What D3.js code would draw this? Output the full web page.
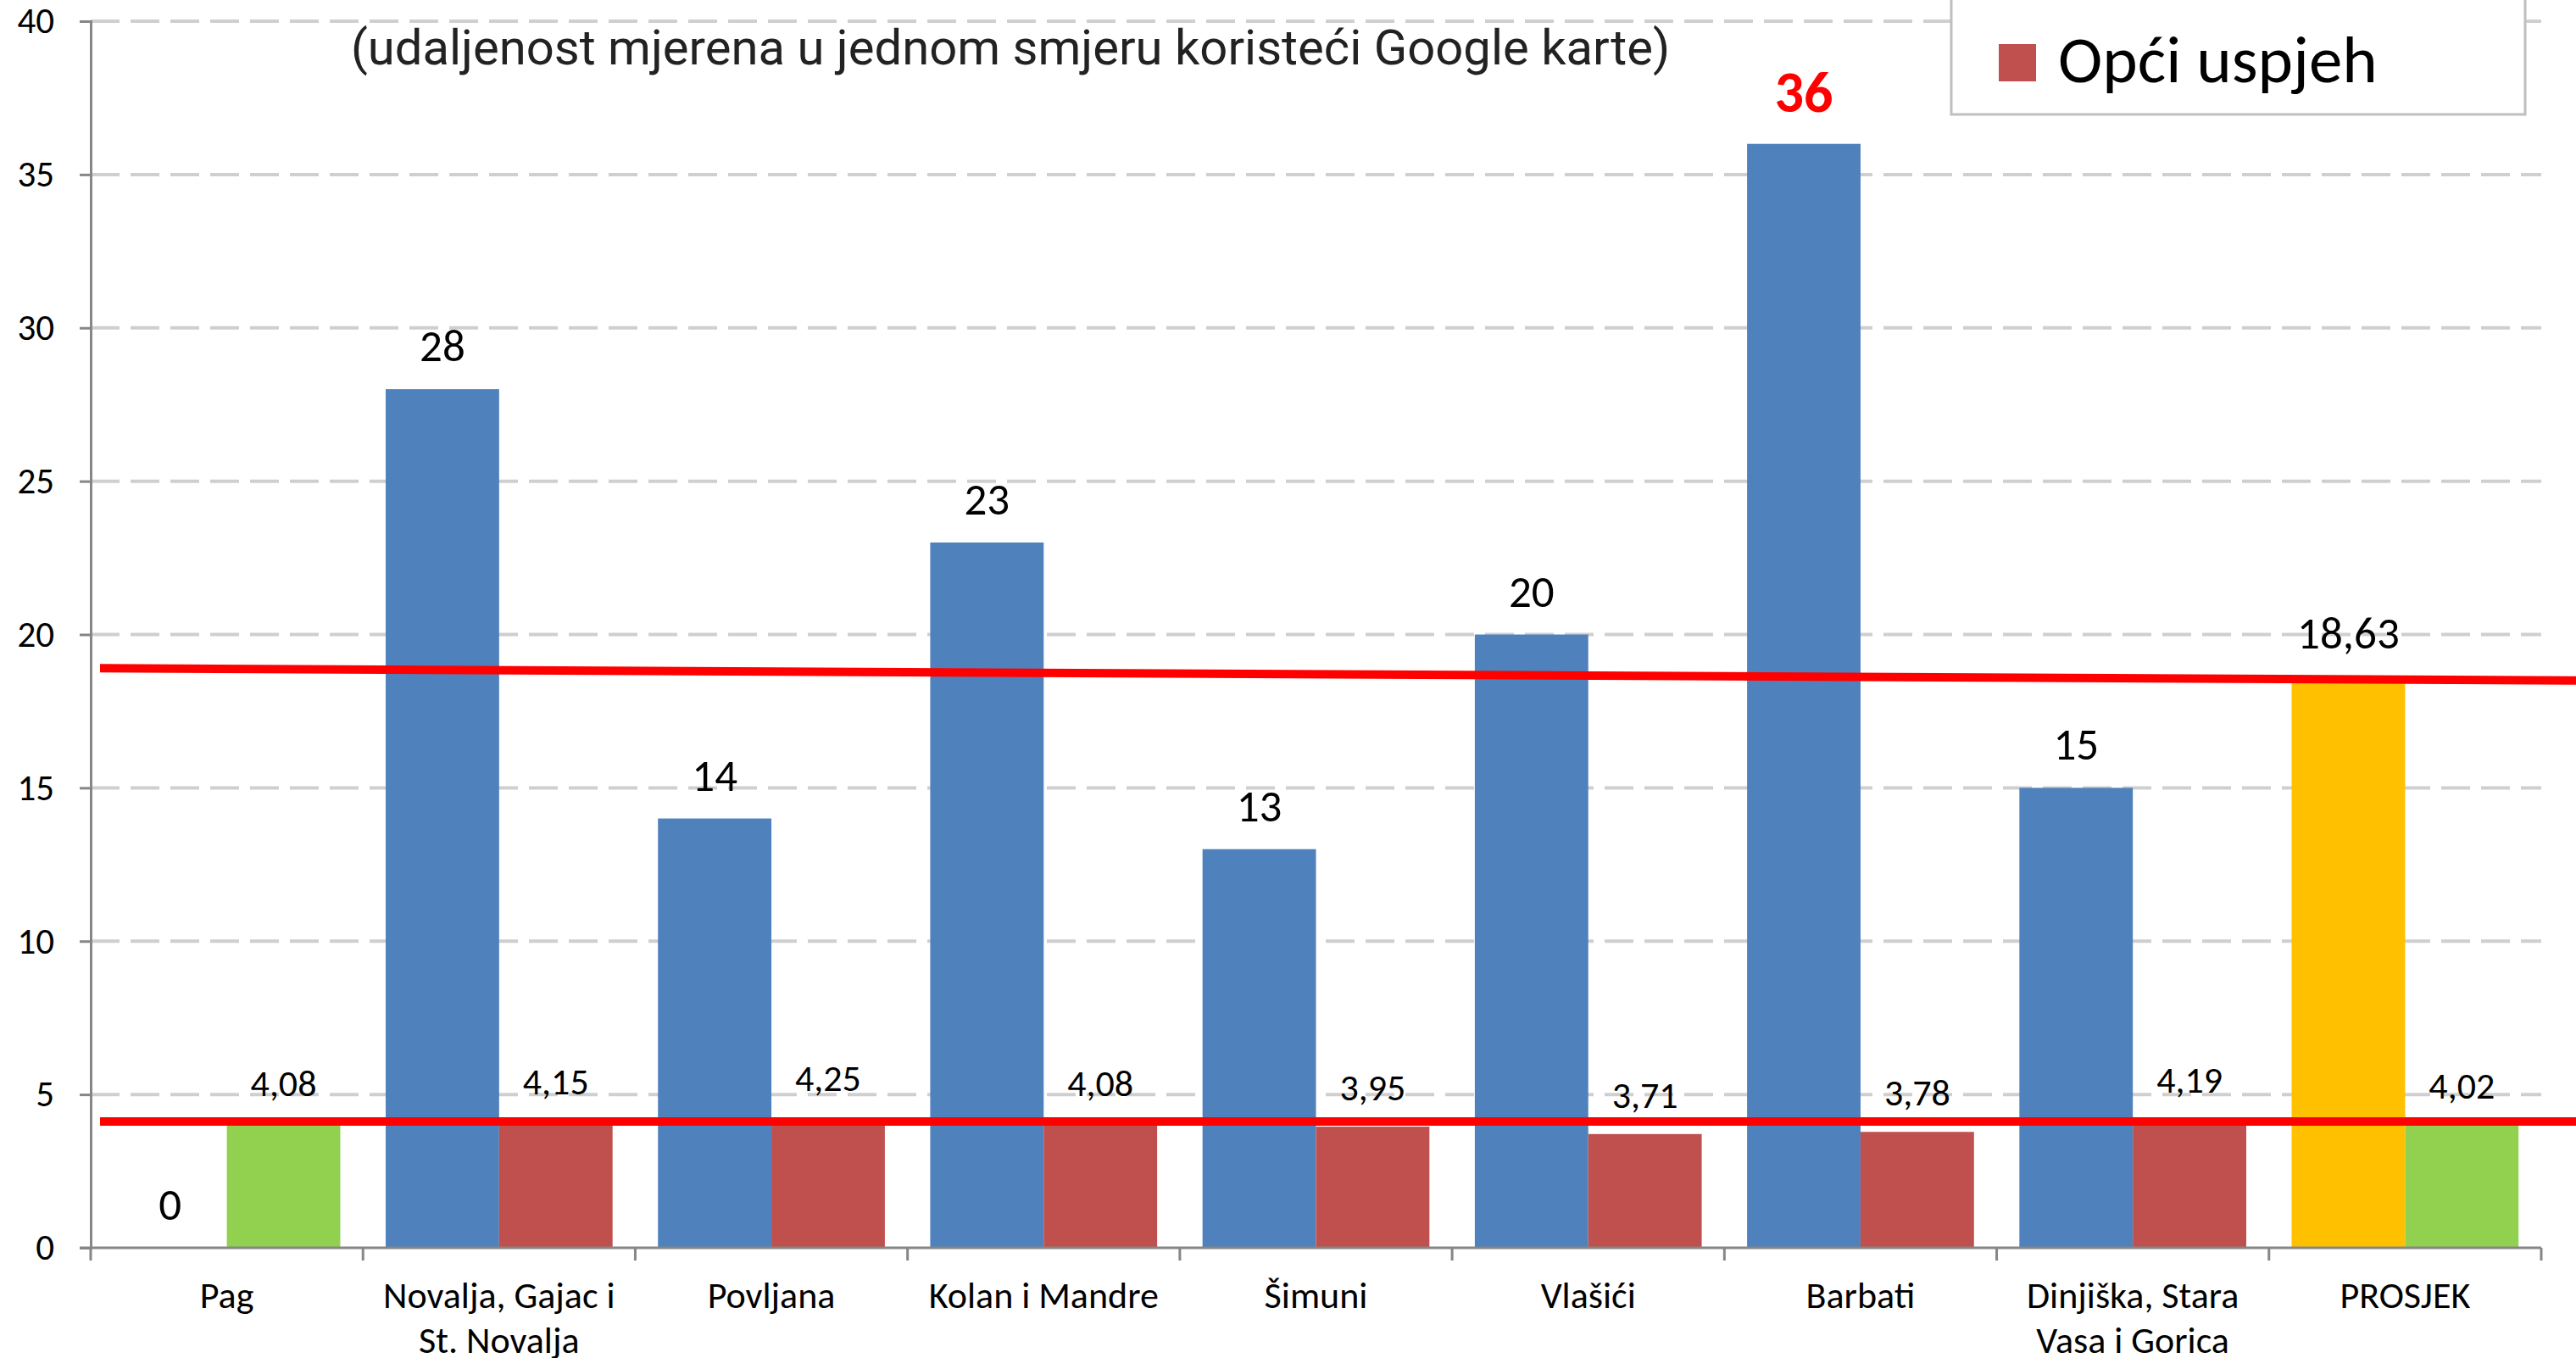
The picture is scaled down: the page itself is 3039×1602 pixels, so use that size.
<!DOCTYPE html>
<html>
<head>
<meta charset="utf-8">
<script src="https://cdn.jsdelivr.net/npm/d3@7"></script>
<style>
    body { margin: 0; background: #fff; }
    svg { display: block; }
    text { font-family: Carlito, Lato, sans-serif; fill: #000; }
    .title { font-family: Roboto, sans-serif; }
</style>
</head>
<body>
<script>
// data
var categories = ["Pag", "Novalja, Gajac i\nSt. Novalja", "Povljana", "Kolan i Mandre", "Šimuni",
    "Vlašići", "Barbati", "Dinjiška, Stara\nVasa i Gorica", "PROSJEK"];
var distance = [0, 28, 14, 23, 13, 20, 36, 15, 18.63];
var success = [4.08, 4.15, 4.25, 4.08, 3.95, 3.71, 3.78, 4.19, 4.02];
var yTicks = [0, 5, 10, 15, 20, 25, 30, 35, 40];
// hand drawn red lines (value at left end, value at right end)
var lineStart = [18.9, 4.12];
var lineEnd = [18.5, 4.12];
var legendLabel = "Opći uspjeh";
var subtitle = "(udaljenost mjerena u jednom smjeru koristeći Google karte)";

var W = 3039, H = 1602;
var plotLeft = 107, plotRight = 2998, plotTop = 25, plotBottom = 1472;

var svg = d3.select("body").append("svg")
    .attr("width", W)
    .attr("height", H);

var x = d3.scaleBand()
    .domain(d3.range(categories.length))
    .range([plotLeft, plotRight])
    .padding(0);

var xSub = d3.scaleBand()
    .domain([0, 1])
    .range([0, x.bandwidth()])
    .paddingInner(0)
    .paddingOuter(0.2);

var y = d3.scaleLinear()
    .domain([0, 40])
    .range([plotBottom, plotTop]);

var fmt = d3.formatLocale({decimal: ",", thousands: ".", grouping: [3], currency: ["", ""]});
function label(v) {
    return Number.isInteger(v) ? String(v) : fmt.format(".2f")(v);
}

var last = categories.length - 1;
var maxIdx = d3.maxIndex(distance.slice(0, last));

function blueColor(i) { return i === last ? "#FFC000" : "#4F81BD"; }
function redColor(i) { return (i === 0 || i === last) ? "#92D050" : "#C0504D"; }

// grid
svg.append("g")
    .selectAll("line")
    .data(yTicks.filter(function (d) { return d > 0; }))
    .join("line")
    .attr("x1", plotLeft)
    .attr("x2", plotRight)
    .attr("y1", function (d) { return y(d); })
    .attr("y2", function (d) { return y(d); })
    .attr("stroke", "#cfcfcf")
    .attr("stroke-width", 4)
    .attr("stroke-dasharray", "34,13");

// subtitle
svg.append("text")
    .attr("class", "title")
    .attr("x", 1192)
    .attr("y", 76)
    .attr("text-anchor", "middle")
    .attr("font-size", 58)
    .style("fill", "#222")
    .text(subtitle);

// bars
svg.append("g")
    .selectAll("rect")
    .data(distance)
    .join("rect")
    .attr("x", function (d, i) { return x(i) + xSub(0); })
    .attr("y", function (d) { return y(d); })
    .attr("width", xSub.bandwidth())
    .attr("height", function (d) { return y(0) - y(d); })
    .attr("fill", function (d, i) { return blueColor(i); });

svg.append("g")
    .selectAll("rect")
    .data(success)
    .join("rect")
    .attr("x", function (d, i) { return x(i) + xSub(1); })
    .attr("y", function (d) { return y(d); })
    .attr("width", xSub.bandwidth())
    .attr("height", function (d) { return y(0) - y(d); })
    .attr("fill", function (d, i) { return redColor(i); });

// axes
var yAxis = d3.axisLeft(y).tickValues(yTicks).tickSize(13).tickPadding(30);
var gy = svg.append("g")
    .attr("transform", "translate(" + plotLeft + ",0)")
    .call(yAxis);
gy.selectAll("text").attr("font-size", 43).attr("font-family", null);
gy.select(".domain").attr("stroke", "#868686").attr("stroke-width", 3);
gy.selectAll(".tick line").attr("stroke", "#868686").attr("stroke-width", 3);

var gx = svg.append("g")
    .attr("transform", "translate(0," + plotBottom + ")");
gx.append("line")
    .attr("x1", plotLeft - 13)
    .attr("x2", plotRight)
    .attr("y1", 0)
    .attr("y2", 0);
gx.selectAll(".tk")
    .data(d3.range(categories.length + 1))
    .join("line")
    .attr("class", "tk")
    .attr("x1", function (d) { return d < categories.length ? x(d) : plotRight; })
    .attr("x2", function (d) { return d < categories.length ? x(d) : plotRight; })
    .attr("y1", 0)
    .attr("y2", 15);
gx.selectAll("line").attr("stroke", "#868686").attr("stroke-width", 3);

var catText = gx.selectAll(".cat")
    .data(categories)
    .join("text")
    .attr("class", "cat")
    .attr("text-anchor", "middle")
    .attr("font-size", 44)
    .attr("y", 71);
catText.each(function (d, i) {
    var t = d3.select(this);
    d.split("\n").forEach(function (line, k) {
        t.append("tspan")
            .attr("x", x(i) + x.bandwidth() / 2)
            .attr("dy", k === 0 ? 0 : 53)
            .text(line);
    });
});

// red lines
svg.append("g")
    .selectAll("line")
    .data(lineStart)
    .join("line")
    .attr("x1", 118)
    .attr("x2", W)
    .attr("y1", function (d) { return y(d); })
    .attr("y2", function (d, i) { return y(lineEnd[i]); })
    .attr("stroke", "#FF0000")
    .attr("stroke-width", 10);

// data labels
svg.append("g")
    .selectAll("text")
    .data(distance)
    .join("text")
    .attr("x", function (d, i) { return x(i) + xSub(0) + xSub.bandwidth() / 2; })
    .attr("y", function (d, i) { return y(d) - (i === maxIdx ? 38 : 33); })
    .attr("text-anchor", "middle")
    .attr("font-size", function (d, i) { return i === maxIdx ? 68 : 53; })
    .attr("font-weight", function (d, i) { return i === maxIdx ? "bold" : null; })
    .style("fill", function (d, i) { return i === maxIdx ? "#FF0000" : "#000"; })
    .text(function (d) { return label(d); });

svg.append("g")
    .selectAll("text")
    .data(success)
    .join("text")
    .attr("x", function (d, i) { return x(i) + xSub(1) + xSub.bandwidth() / 2; })
    .attr("y", function (d) { return y(d) - 31; })
    .attr("text-anchor", "middle")
    .attr("font-size", 44)
    .text(function (d) { return label(d); });

// legend (upper part falls outside the picture)
var lg = svg.append("g");
lg.append("rect")
    .attr("x", 2302)
    .attr("y", -60)
    .attr("width", 677)
    .attr("height", 195)
    .attr("fill", "#fff")
    .attr("stroke", "#bfbfbf")
    .attr("stroke-width", 3);
lg.append("rect")
    .attr("x", 2358)
    .attr("y", 52)
    .attr("width", 44)
    .attr("height", 44)
    .attr("fill", "#C0504D");
lg.append("text")
    .attr("x", 2428)
    .attr("y", 97)
    .attr("font-size", 79)
    .text(legendLabel);
</script>
</body>
</html>
